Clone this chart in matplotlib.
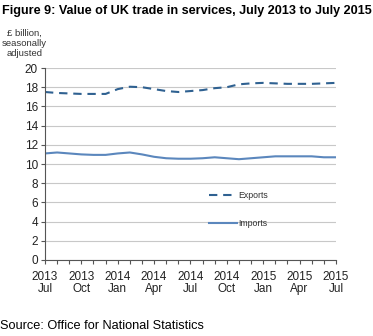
import numpy as np
import matplotlib.pyplot as plt

plt.rcParams['font.family'] = ['Liberation Sans', 'DejaVu Sans']

# monthly values, Jul 2013 - Jul 2015 (£ billion)
months = ['2013\nJul', '', '', '2013\nOct', '', '', '2014\nJan', '', '', '2014\nApr', '', '',
          '2014\nJul', '', '', '2014\nOct', '', '', '2015\nJan', '', '', '2015\nApr', '', '',
          '2015\nJul']
exports = [17.5, 17.4, 17.35, 17.3, 17.3, 17.3, 17.8, 18.05, 18.0, 17.8, 17.6, 17.5,
           17.6, 17.7, 17.9, 18.0, 18.3, 18.4, 18.45, 18.4, 18.35, 18.35, 18.35, 18.4, 18.45]
imports = [11.1, 11.2, 11.1, 11.0, 10.95, 10.95, 11.1, 11.2, 11.0, 10.75, 10.6, 10.55,
           10.55, 10.6, 10.7, 10.6, 10.5, 10.6, 10.7, 10.8, 10.8, 10.8, 10.8, 10.7, 10.7]

x = np.arange(len(months))

fig = plt.figure(figsize=(3.73, 3.36), dpi=100)
ax = fig.add_axes([0.1206, 0.2262, 0.78, 0.5714])

ax.plot(x, exports, color='#2f6191', lw=1.5, ls=(0, (4, 2.8)), label='Exports')
ax.plot(x, imports, color='#5b87bd', lw=1.5, label='Imports')

ax.set_xlim(0, len(months) - 1)
ax.set_ylim(0, 20)
ax.set_yticks(range(0, 21, 2))
ax.set_xticks(x)
ax.set_xticklabels([])
for i, lab in enumerate(months):
    if lab:
        ax.text(i, -1.1, lab, ha='center', va='top', fontsize=8.5, linespacing=1.0,
                color='#222222')
ax.tick_params(axis='x', length=3, width=0.8, color='#555555')
ax.tick_params(axis='y', length=3, width=0.8, color='#555555', labelsize=8.5,
               labelcolor='#222222', pad=2)
ax.grid(axis='y', color='#c8c8c8', lw=0.8)
ax.set_axisbelow(True)
for s in ['top', 'right']:
    ax.spines[s].set_visible(False)
ax.spines['left'].set_color('#555555')
ax.spines['bottom'].set_color('#555555')

leg = ax.legend(loc='center left', bbox_to_anchor=(0.535, 0.262), frameon=False,
                fontsize=6.3, handlelength=3.3, handletextpad=0.05, labelspacing=2.2)
for t in leg.get_texts():
    t.set_color('#333333')

fig.text(0.005, 0.985, 'Figure 9: Value of UK trade in services, July 2013 to July 2015',
         ha='left', va='top', fontsize=9.1, fontweight='bold')
fig.text(0.066, 0.915, '£ billion,\nseasonally\nadjusted', ha='center', va='top',
         fontsize=6.8, linespacing=1.18, color='#333333')
fig.text(0.0, 0.03, 'Source: Office for National Statistics', ha='left', va='center',
         fontsize=9.2)

fig.savefig('out.png', dpi=100)
